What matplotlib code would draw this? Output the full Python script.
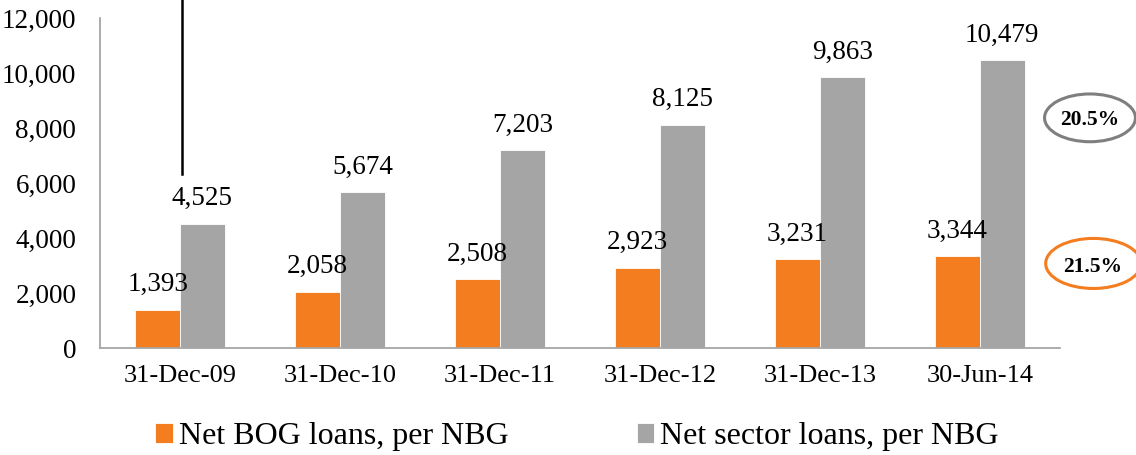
import matplotlib.pyplot as plt
from matplotlib.patches import Ellipse
import numpy as np

plt.rcParams['font.family'] = ['Liberation Serif', 'DejaVu Serif']

dates = ['31-Dec-09', '31-Dec-10', '31-Dec-11', '31-Dec-12', '31-Dec-13', '30-Jun-14']
bog_loans = [1393, 2058, 2508, 2923, 3231, 3344]
sector_loans = [4525, 5674, 7203, 8125, 9863, 10479]

orange = '#F47D20'
grey = '#A5A5A5'

fig = plt.figure(figsize=(11.36, 4.55), dpi=100)
ax = fig.add_axes([0.088, 0.235, 0.845, 0.725])

x = np.arange(len(dates))
w = 0.28
ax.bar(x - w / 2, bog_loans, w, color=orange, edgecolor='white', linewidth=0.6,
       label='Net BOG loans, per NBG')
ax.bar(x + w / 2, sector_loans, w, color=grey, edgecolor='white', linewidth=0.6,
       label='Net sector loans, per NBG')

for i in range(len(dates)):
    ax.annotate(f'{bog_loans[i]:,}', (x[i] - w / 2, bog_loans[i]),
                xytext=(0, 9), textcoords='offset points',
                ha='center', va='bottom', fontsize=19.5)
    ax.annotate(f'{sector_loans[i]:,}', (x[i] + w / 2, sector_loans[i]),
                xytext=(0, 9), textcoords='offset points',
                ha='center', va='bottom', fontsize=19.5)

ax.set_xlim(-0.5, 5.5)
ax.set_ylim(0, 12000)
ax.set_yticks(range(0, 12001, 2000))
ax.yaxis.set_major_formatter(plt.FuncFormatter(lambda v, p: f'{int(v):,}'))
ax.set_xticks(x)
ax.set_xticklabels(dates)
ax.tick_params(axis='y', length=0, pad=17, labelsize=19.5)
ax.tick_params(axis='x', length=0, pad=12, labelsize=19)

for s in ['top', 'right']:
    ax.spines[s].set_visible(False)
for s in ['left', 'bottom']:
    ax.spines[s].set_color('#A6A6A6')
    ax.spines[s].set_linewidth(1.3)

# stray vertical line from the source slide
ax.plot([0.01, 0.01], [6350, 13500], color='black', lw=1.8, clip_on=False)

fig.legend(loc='center', bbox_to_anchor=(0.508, 0.04), ncol=2, frameon=False,
           fontsize=23, handlelength=0.55, handleheight=0.55, handletextpad=0.2,
           columnspacing=4.0)

e1 = Ellipse((0.9595, 0.741), 0.080, 0.105, transform=fig.transFigure,
             fill=False, edgecolor='#7F7F7F', lw=2.2)
e2 = Ellipse((0.9625, 0.421), 0.084, 0.11, transform=fig.transFigure,
             fill=False, edgecolor=orange, lw=2.2)
fig.add_artist(e1)
fig.add_artist(e2)
fig.text(0.9595, 0.736, '20.5%', ha='center', va='center', fontsize=15.5, fontweight='bold')
fig.text(0.9615, 0.414, '21.5%', ha='center', va='center', fontsize=15.5, fontweight='bold')

fig.savefig('out.png', dpi=100)
